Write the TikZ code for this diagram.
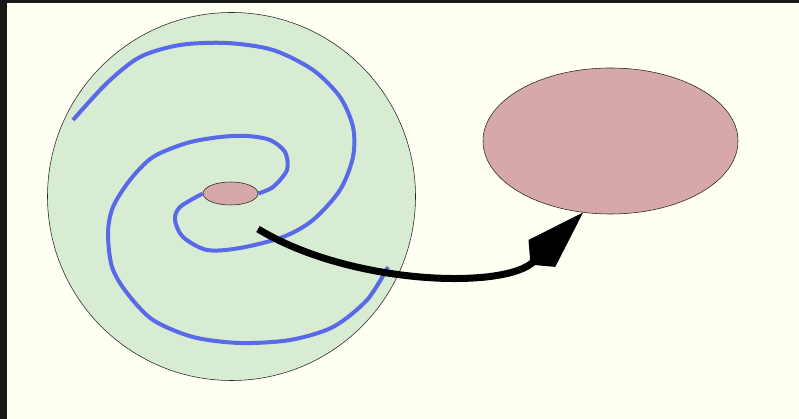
\documentclass[tikz,border=0pt]{standalone}
\usetikzlibrary{arrows.meta,shapes.geometric}
\usepackage{xcolor}
\definecolor{paper}{RGB}{255,255,243}
\definecolor{frame}{RGB}{24,24,24}
\definecolor{diskfill}{RGB}{216,236,212}
\definecolor{holefill}{RGB}{214,168,170}
\definecolor{armblue}{RGB}{88,106,232}

\begin{document}
\begin{tikzpicture}[x=0.25mm, y=-0.25mm,
  disk/.style={circle, draw=black!85, line width=0.4pt, fill=diskfill, minimum size=92mm, inner sep=0pt},
  hole/.style={ellipse, draw=black!85, line width=0.4pt, fill=holefill, inner sep=0pt},
  arm/.style={armblue, line width=1mm},
  flow/.style={black, line width=1.75mm, -{Kite[length=18.5mm, width=9.5mm, inset=4mm]}}]
\fill[paper] (0,0) rectangle (799,419);
\fill[frame] (0,0) rectangle (7,419);
\fill[frame] (0,0) rectangle (799,3);
\node[disk] (disk) at (231.5,196.5) {};
\node[hole, minimum width=13.75mm, minimum height=5.75mm] (hole) at (230.5,193.5) {};
\node[hole, minimum width=63.75mm, minimum height=36.5mm] (blob) at (610.5,141) {};
% the two arms of the spiral
\draw[arm] plot[smooth] coordinates {(hole.west) (180,207) (175,220) (183,237) (207,250) (240,248)
  (283,237) (313,220) (340,190) (353,157) (353,127) (340,97) (313,70) (273,50) (227,43)
  (180,45) (140,57) (107,83) (73,120)};
\draw[arm] plot[smooth] coordinates {(hole.east) (273,187) (287,170) (285,152) (270,140) (247,136)
  (220,137) (187,143) (153,157) (130,180) (113,207) (108,233) (112,267) (127,293) (153,320)
  (193,337) (240,343) (290,340) (333,327) (367,300) (388,267)};
\coordinate (tail) at (258,229);
\draw[flow] (tail) .. controls (350,285) and (505,290) .. (blob.249);
\end{tikzpicture}
\end{document}
